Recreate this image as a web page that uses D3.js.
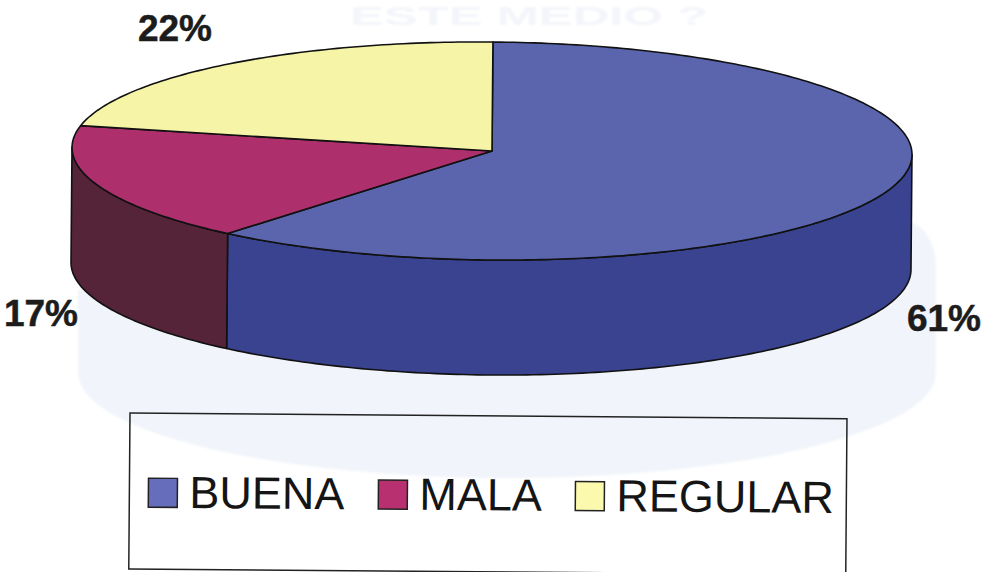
<!DOCTYPE html>
<html>
<head>
<meta charset="utf-8">
<script src="https://cdn.jsdelivr.net/npm/d3@7"></script>
<style>
  html, body { margin: 0; padding: 0; background: #fff; }
  svg { display: block; }
  text { font-family: "Liberation Sans", Arial, sans-serif; }
</style>
</head>
<body>
<div id="chart"></div>
<script>
var categories = ["BUENA", "MALA", "REGULAR"];
var values = [60.8, 17.4, 21.8];
var labels = ["61%", "17%", "22%"];
var topColors = ["#5a65ae", "#ad2f6b", "#f6f4a6"];
var sideColors = ["#39438f", "#552438", "#c9c788"];
var legendColors = ["#666dba", "#b8306f", "#fbf9ae"];

var width = 984, height = 572, depth = 115;

var svg = d3.select("#chart").append("svg")
    .attr("width", width)
    .attr("height", height);

svg.append("filter").attr("id", "soft")
    .append("feGaussianBlur").attr("stdDeviation", 1);

// the page behind the chart shows through a little
var ghost = svg.append("g").attr("filter", "url(#soft)");
ghost.append("path")
    .attr("d", "M78,290 L78,373 A429,105 0 0 0 936,373 L936,265 A30,45 0 0 0 905,222 Z")
    .attr("fill", "#f1f4fa");
ghost.append("text")
    .attr("x", 350).attr("y", 25)
    .attr("font-size", 26)
    .attr("font-weight", "bold")
    .attr("textLength", 358)
    .attr("lengthAdjust", "spacingAndGlyphs")
    .attr("fill", "#f3f5fa")
    .text("ESTE MEDIO ?");

var xScale = d3.scaleLinear().domain([-1, 1]).range([72, 912]),
    yScale = d3.scaleLinear().domain([-1, 1]).range([42, 260]);

var pie = d3.pie().sort(null).value(function(d) { return d; });
var slices = pie(values);

var line = d3.line()
    .x(function(p) { return p[0]; })
    .y(function(p) { return p[1]; });

function rim(a, dy) {
  return [xScale(Math.sin(a)), yScale(-Math.cos(a)) + dy];
}

function arcPoints(a0, a1, dy) {
  var n = Math.max(2, Math.ceil(Math.abs(a1 - a0) * 60));
  return d3.range(n + 1).map(function(i) {
    return rim(a0 + (a1 - a0) * i / n, dy);
  });
}

// the scan is a bit crooked, right side sits lower
var pie3d = svg.append("g")
    .attr("transform", "rotate(0.5 492 151)")
    .attr("stroke", "#111")
    .attr("stroke-width", 1.6)
    .attr("stroke-linejoin", "round");

// side wall, only the front half of the cylinder is seen
pie3d.selectAll(".wall")
    .data(slices)
    .enter().append("path")
    .attr("class", "wall")
    .attr("fill", function(d) { return sideColors[d.index]; })
    .attr("d", function(d) {
      var a0 = Math.max(d.startAngle, Math.PI / 2),
          a1 = Math.min(d.endAngle, Math.PI * 3 / 2);
      if (a1 <= a0) return null;
      return line(arcPoints(a0, a1, 0).concat(arcPoints(a1, a0, depth))) + "Z";
    });

pie3d.selectAll(".slice")
    .data(slices)
    .enter().append("path")
    .attr("class", "slice")
    .attr("fill", function(d) { return topColors[d.index]; })
    .attr("d", function(d) {
      var center = [xScale(0), yScale(0)];
      return line([center].concat(arcPoints(d.startAngle, d.endAngle, 0))) + "Z";
    });

// percent labels
var labelPos = [[944, 331], [41, 326], [175, 41]];
svg.selectAll(".pct")
    .data(labels)
    .enter().append("text")
    .attr("class", "pct")
    .attr("x", function(d, i) { return labelPos[i][0]; })
    .attr("y", function(d, i) { return labelPos[i][1]; })
    .attr("text-anchor", "middle")
    .attr("font-size", 37)
    .attr("font-weight", "bold")
    .attr("fill", "#1c1c1c")
    .attr("stroke", "#1c1c1c")
    .attr("stroke-width", 0.5)
    .text(function(d) { return d; });

// legend, turned the same way as the pie
var legend = svg.append("g").attr("transform", "rotate(0.45 130 413)");
legend.append("rect")
    .attr("x", 130).attr("y", 413)
    .attr("width", 717).attr("height", 156)
    .attr("fill", "none")
    .attr("stroke", "#222")
    .attr("stroke-width", 1.5);

var itemX = [149, 379, 576];
var item = legend.selectAll(".item")
    .data(categories)
    .enter().append("g")
    .attr("class", "item")
    .attr("transform", function(d, i) { return "translate(" + itemX[i] + ",478)"; });

item.append("rect")
    .attr("width", 29).attr("height", 29)
    .attr("fill", function(d, i) { return legendColors[i]; })
    .attr("stroke", "#222")
    .attr("stroke-width", 1.5);

item.append("text")
    .attr("x", 41).attr("y", 29.5)
    .attr("font-size", 45)
    .attr("fill", "#151515")
    .text(function(d) { return d; });
</script>
</body>
</html>
